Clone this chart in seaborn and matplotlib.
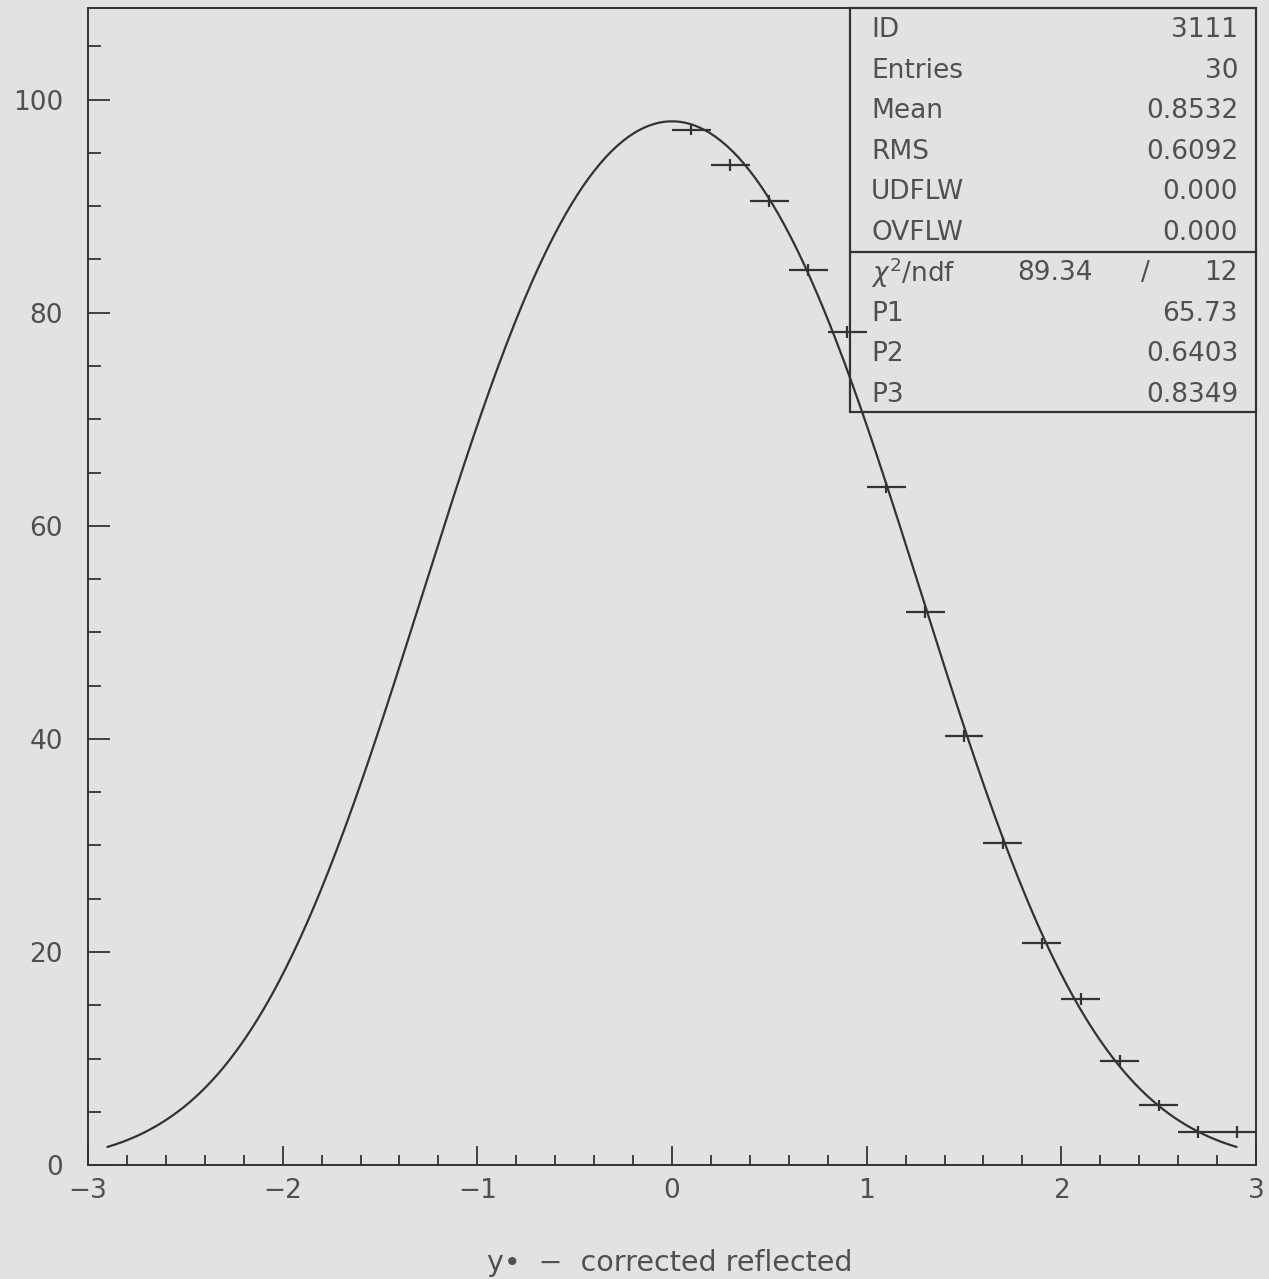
import numpy as np
import pandas as pd
import seaborn as sns
import matplotlib.pyplot as plt
from matplotlib.ticker import MultipleLocator
from matplotlib.patches import Rectangle

# histogram bins (reflected y*)
bin_centers = [0.1, 0.3, 0.5, 0.7, 0.9, 1.1, 1.3, 1.5, 1.7, 1.9, 2.1, 2.3, 2.5, 2.7, 2.9]
counts = [97.2, 93.9, 90.5, 84.0, 78.2, 63.6, 51.9, 40.3, 30.2, 20.8, 15.6, 9.8, 5.6, 3.1, 3.1]
bin_half_width = 0.1
count_err = 0.55

# fit parameters from the stats box
p1, p2, p3 = 65.73, 0.6403, 0.8349
fit_range = (-2.9, 2.9)

stat_labels = ["ID", "Entries", "Mean", "RMS", "UDFLW", "OVFLW"]
stat_values = ["3111", "30", "0.8532", "0.6092", "0.000", "0.000"]
fit_labels = ["P1", "P2", "P3"]
fit_values = ["65.73", "0.6403", "0.8349"]

bg = "#e3e2e2"
ink = "#333333"
txt = "#505050"

sns.set_style("white")
plt.rcParams["font.family"] = ["DejaVu Sans"]

fig = plt.figure(figsize=(12.69, 12.79), dpi=100, facecolor=bg)
ax = fig.add_axes([0.0693, 0.0891, 0.9205, 0.9046])
ax.set_facecolor(bg)

xs = np.linspace(fit_range[0], fit_range[1], 400)
fit = p1 * (np.exp(-0.5 * ((xs - p2) / p3) ** 2) + np.exp(-0.5 * ((xs + p2) / p3) ** 2))
curve = pd.DataFrame({"x": xs, "y": fit})
sns.lineplot(data=curve, x="x", y="y", ax=ax, color=ink, lw=1.6, sort=False)

ax.errorbar(bin_centers, counts, xerr=bin_half_width, yerr=count_err,
            fmt="none", ecolor=ink, elinewidth=1.6, capsize=0)

ax.set_xlim(-3, 3)
ax.set_ylim(0, 108.6)
ax.xaxis.set_major_locator(MultipleLocator(1))
ax.xaxis.set_minor_locator(MultipleLocator(0.2))
ax.yaxis.set_major_locator(MultipleLocator(20))
ax.yaxis.set_minor_locator(MultipleLocator(5))
ax.tick_params(axis="both", which="both", direction="in", color=ink, width=1.3,
               labelcolor=txt, labelsize=19, bottom=True, left=True, top=False, right=False)
ax.tick_params(axis="x", which="major", length=14, pad=9)
ax.tick_params(axis="x", which="minor", length=7.5)
ax.tick_params(axis="y", which="major", length=16, pad=18)
ax.tick_params(axis="y", which="minor", length=9)
for s in ax.spines.values():
    s.set_color(ink)
    s.set_linewidth(1.4)

ax.set_xlabel("")
ax.set_ylabel("")
fig.text(0.528, 0.0125, "y\u2022  \u2212  corrected reflected", ha="center", va="center",
         fontsize=20.5, color=txt)

# stats box
bx0, by0, div = 0.652, 0.651, 0.789
ax.add_patch(Rectangle((bx0, by0), 1 - bx0, 1 - by0, transform=ax.transAxes,
                       fill=False, edgecolor=ink, lw=1.6, clip_on=False))
ax.plot([bx0, 1], [div, div], transform=ax.transAxes, color=ink, lw=1.6, clip_on=False)

fs = 19
row_h = 40.5 / 1157
y0 = (1165 - 30) / 1157
lx = (871 - 88) / 1168
rx = (1238 - 88) / 1168
for i, (lab, val) in enumerate(zip(stat_labels, stat_values)):
    y = y0 - i * row_h
    ax.text(lx, y, lab, transform=ax.transAxes, ha="left", va="center", fontsize=fs, color=txt)
    ax.text(rx, y, val, transform=ax.transAxes, ha="right", va="center", fontsize=fs, color=txt)

y = y0 - 6 * row_h
ax.text(lx, y, r"$\chi^2$/ndf", transform=ax.transAxes, ha="left", va="center", fontsize=fs, color=txt)
ax.text((1055 - 88) / 1168, y, "89.34", transform=ax.transAxes, ha="center", va="center", fontsize=fs, color=txt)
ax.text((1145 - 88) / 1168, y, "/", transform=ax.transAxes, ha="center", va="center", fontsize=fs, color=txt)
ax.text(rx, y, "12", transform=ax.transAxes, ha="right", va="center", fontsize=fs, color=txt)
for i, (lab, val) in enumerate(zip(fit_labels, fit_values)):
    y = y0 - (7 + i) * row_h
    ax.text(lx, y, lab, transform=ax.transAxes, ha="left", va="center", fontsize=fs, color=txt)
    ax.text(rx, y, val, transform=ax.transAxes, ha="right", va="center", fontsize=fs, color=txt)

plt.savefig("out.png", dpi=100, facecolor=bg)
